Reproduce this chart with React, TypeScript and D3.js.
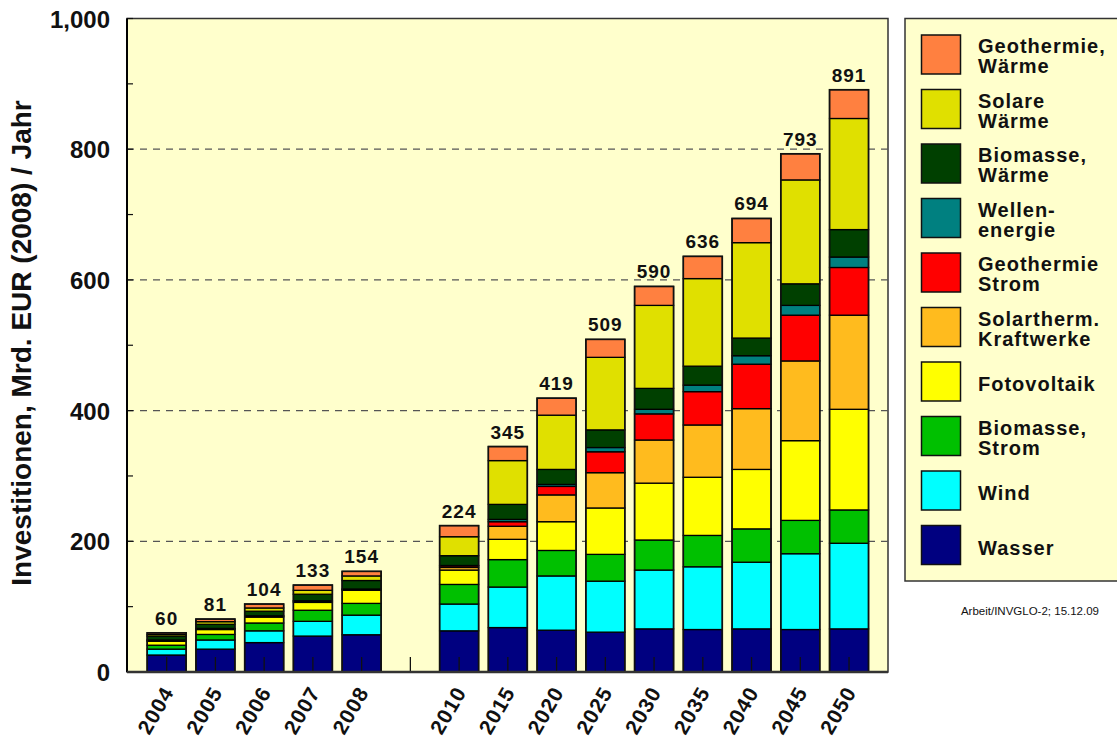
import React from "react";
import * as d3 from "d3";

const years = ["2004", "2005", "2006", "2007", "2008", "", "2010", "2015", "2020", "2025", "2030", "2035", "2040", "2045", "2050"];
const dataYears = ["2004", "2005", "2006", "2007", "2008", "2010", "2015", "2020", "2025", "2030", "2035", "2040", "2045", "2050"];

const wasser = [26, 35, 45, 55, 57, 63, 68, 64, 61, 66, 65, 66, 65, 66];
const wind = [9, 14, 18, 22.5, 30, 41, 62, 83, 78, 90, 96, 102, 116, 131];
const biomasseStrom = [6, 8.5, 12, 17, 18, 30, 42, 39, 41, 46, 48, 51, 51, 51];
const fotovoltaik = [6, 7.5, 9, 12, 20, 22, 31, 44, 71, 87, 89, 91, 122, 154];
const solartherm = [1.5, 1.2, 1.5, 2, 1.5, 4, 20, 41, 54, 66, 80, 93, 122, 144];
const geothermieStrom = [0.5, 0.5, 0.5, 0.5, 0.5, 2.5, 7, 13, 32, 40, 51, 68, 70, 73];
const wellen = [0, 0, 0, 0, 0, 0.5, 3.5, 3, 6.5, 7, 10, 13, 15, 16];
const biomasseWaerme = [6, 6.3, 7, 10, 13, 15, 23, 23, 27, 32, 29, 27, 33, 42];
const solareWaerme = [2.5, 4, 5, 6, 7, 29, 67, 83, 111, 127, 134, 146, 159, 170];
const geothermieWaerme = [2.5, 4, 6, 8, 7, 17, 21.5, 26, 27.5, 29, 34, 37, 40, 44];

const totals = [60, 81, 104, 133, 154, 224, 345, 419, 509, 590, 636, 694, 793, 891];

const seriesNames = ["Wasser", "Wind", "Biomasse, Strom", "Fotovoltaik", "Solartherm. Kraftwerke", "Geothermie Strom", "Wellenenergie", "Biomasse, Wärme", "Solare Wärme", "Geothermie, Wärme"];
const seriesValues = [wasser, wind, biomasseStrom, fotovoltaik, solartherm, geothermieStrom, wellen, biomasseWaerme, solareWaerme, geothermieWaerme];
const seriesColors = ["#000080", "#00FFFF", "#00C000", "#FFFF00", "#FFBB1E", "#FF0000", "#008080", "#004000", "#E0E000", "#FF8040"];
const legendLines = [
  ["Wasser"], ["Wind"], ["Biomasse,", "Strom"], ["Fotovoltaik"], ["Solartherm.", "Kraftwerke"],
  ["Geothermie", "Strom"], ["Wellen-", "energie"], ["Biomasse,", "Wärme"], ["Solare", "Wärme"], ["Geothermie,", "Wärme"],
];

const yTicks = [0, 200, 400, 600, 800, 1000];
const yMinor = [100, 300, 500, 700, 900];

const FONT = "'Liberation Sans', Arial, Helvetica, sans-serif";

export default function App() {
  const left = 127, right = 888, top = 18.5, bottom = 672;
  const x = d3.scaleBand<string>().domain(years.map((d, i) => d || "gap" + i)).range([142.3, 873.4]).paddingInner(0.2).paddingOuter(0.1);
  const y = d3.scaleLinear().domain([0, 1000]).range([bottom, top]);
  const fmt = d3.format(",");

  const rows = dataYears.map((yr, i) => {
    const r: any = { year: yr };
    seriesNames.forEach((n, k) => (r[n] = seriesValues[k][i]));
    return r;
  });
  const stack = d3.stack<any>().keys(seriesNames)(rows);

  const legendOrder = seriesNames.map((_, i) => i).reverse();

  return (
    <svg width={1117} height={740} style={{ position: "absolute", left: 0, top: 0, fontFamily: FONT }}>
      <rect x={0} y={0} width={1117} height={740} fill="#ffffff" />
      {/* plot background */}
      <rect x={left} y={top} width={right - left} height={bottom - top} fill="#FFFFCC" stroke="#333" strokeWidth={1.5} />
      {/* grid */}
      {yTicks.filter((t) => t > 0 && t < 1000).map((t) => (
        <line key={t} x1={left} x2={right} y1={y(t)} y2={y(t)} stroke="#555" strokeWidth={1.3} strokeDasharray="7,6" />
      ))}
      {/* bars */}
      {stack.map((s, k) => (
        <g key={k}>
          {s.map((d, i) => {
            const h = y(d[0]) - y(d[1]);
            if (h <= 0) return null;
            return (
              <rect key={i} x={x(dataYears[i])!} width={x.bandwidth()} y={y(d[1])} height={h}
                fill={seriesColors[k]} stroke="#000" strokeWidth={1.3} />
            );
          })}
        </g>
      ))}
      {/* bar outline */}
      {dataYears.map((yr, i) => (
        <rect key={yr} x={x(yr)!} width={x.bandwidth()} y={y(totals[i])} height={bottom - y(totals[i])} fill="none" stroke="#111" strokeWidth={1.6} />
      ))}
      {/* totals */}
      {dataYears.map((yr, i) => (
        <text key={yr} x={x(yr)! + x.bandwidth() / 2} y={y(totals[i]) - 8} textAnchor="middle" fontSize={19} fontWeight="bold" letterSpacing={1} fill="#111">
          {Math.round(d3.sum(seriesValues, (s) => s[i]))}
        </text>
      ))}
      {/* x category ticks */}
      {x.domain().map((d) => (
        <line key={d} x1={x(d)! + x.bandwidth() / 2} x2={x(d)! + x.bandwidth() / 2} y1={bottom} y2={bottom - 15} stroke="#111" strokeWidth={1.3} />
      ))}
      {/* y minor/major ticks */}
      {[...yTicks, ...yMinor].map((t) => (
        <line key={"t" + t} x1={left} x2={left + 6} y1={y(t)} y2={y(t)} stroke="#111" strokeWidth={1.2} />
      ))}
      {/* axes */}
      <line x1={left} x2={left} y1={top} y2={bottom} stroke="#000" strokeWidth={2} />
      <line x1={left} x2={right} y1={bottom} y2={bottom} stroke="#333" strokeWidth={2.5} />
      {/* y labels */}
      {yTicks.map((t) => (
        <text key={t} x={110} y={y(t) + 9} textAnchor="end" fontSize={24} fontWeight="bold" fill="#111">{fmt(t)}</text>
      ))}
      {/* y title */}
      <text transform={`translate(31,343) rotate(-90)`} textAnchor="middle" fontSize={28} fontWeight="bold" fill="#111">
        Investitionen, Mrd. EUR (2008) / Jahr
      </text>
      {/* x labels */}
      {years.map((yr, i) =>
        yr ? (
          <text key={i} transform={`translate(${x(yr)! + x.bandwidth() / 2 + 8},${692}) rotate(-60)`} textAnchor="end" fontSize={21} fontWeight="bold" letterSpacing={1} fill="#111">
            {yr}
          </text>
        ) : null
      )}
      {/* legend */}
      <rect x={905} y={top} width={230} height={581 - top} fill="#FFFFCC" stroke="#333" strokeWidth={1.5} />
      {legendOrder.map((k, j) => {
        const sy = 35 + j * 54.5;
        const lines = legendLines[k];
        return (
          <g key={k}>
            <rect x={921.5} y={sy} width={39} height={39} fill={seriesColors[k]} stroke="#111" strokeWidth={1.5} />
            {lines.length === 2 ? (
              <text x={978} y={sy + 18} fontSize={20} fontWeight="bold" letterSpacing={1} fill="#111">
                <tspan x={978}>{lines[0]}</tspan>
                <tspan x={978} dy={20}>{lines[1]}</tspan>
              </text>
            ) : (
              <text x={978} y={sy + 29} fontSize={20} fontWeight="bold" letterSpacing={1} fill="#111">{lines[0]}</text>
            )}
          </g>
        );
      })}
      <text x={1099} y={615} textAnchor="end" fontSize={11.5} fill="#111">Arbeit/INVGLO-2; 15.12.09</text>
    </svg>
  );
}
